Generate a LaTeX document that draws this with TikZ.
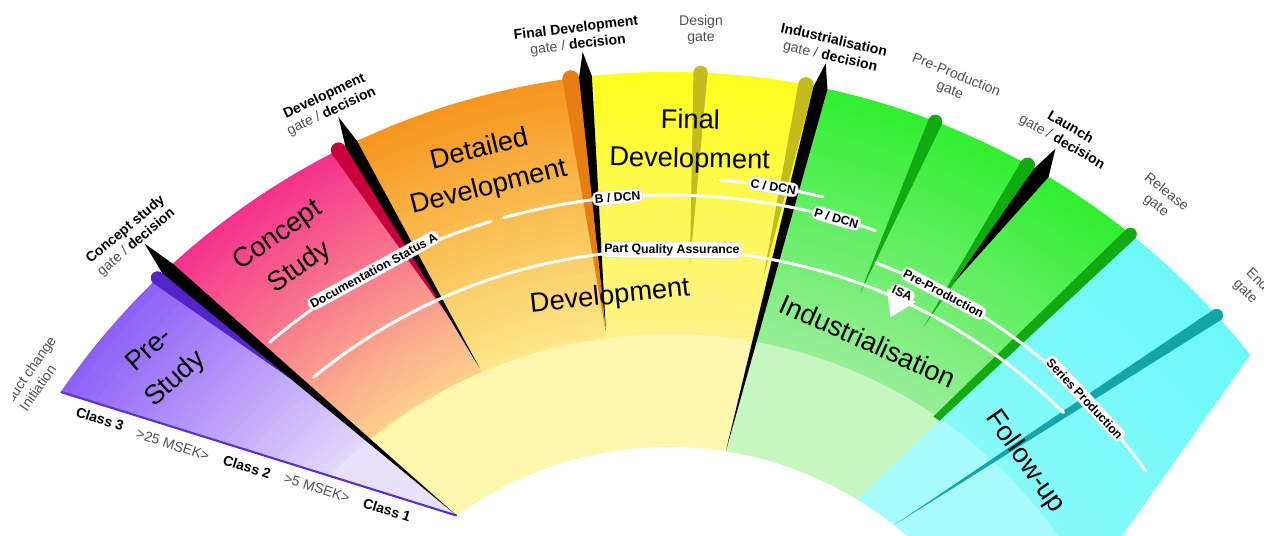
\documentclass[tikz,border=0pt]{standalone}
\usepackage{fontspec}
\setmainfont{Liberation Sans}
\usetikzlibrary{calc}

\definecolor{preA}{HTML}{8C5DF6}
\definecolor{preB}{HTML}{E2D8FB}
\definecolor{preC}{HTML}{E9E1FB}
\definecolor{conA}{HTML}{F52E8E}
\definecolor{conB}{HTML}{FCD08C}
\definecolor{detA}{HTML}{F7941E}
\definecolor{detB}{HTML}{FDE88A}
\definecolor{finA}{HTML}{FFFF1A}
\definecolor{finB}{HTML}{FFF28A}
\definecolor{devband}{HTML}{FFF7AE}
\definecolor{indA}{HTML}{2EEF2E}
\definecolor{indB}{HTML}{98EE98}
\definecolor{indC}{HTML}{C6F7C0}
\definecolor{folA}{HTML}{6CF8F8}
\definecolor{folB}{HTML}{88FAFA}
\definecolor{folC}{HTML}{A8FBFB}
\definecolor{prepost}{HTML}{5524C8}
\definecolor{conpost}{HTML}{C8003C}
\definecolor{detpost}{HTML}{E67E14}
\definecolor{olivepost}{HTML}{C4BC1C}
\definecolor{greenpost}{HTML}{12AA12}
\definecolor{tealpost}{HTML}{14A6A6}
\definecolor{edgeline}{HTML}{5A30D0}
\definecolor{txtgray}{HTML}{505050}

\begin{document}
\begin{tikzpicture}[
        x = 0.02cm, y = 0.02cm,
        line join=round,
        track/.style = {white, line width=1.7pt, line cap=round},
        tag/.style = {fill=white, draw=black!15, line width=0.3pt, rounded corners=3pt, inner sep=1.3pt, font=\bfseries\fontsize{7}{8}\selectfont},
        phase/.style = {align=center, font=\fontsize{15.5}{22}\selectfont},
        gatelbl/.style = {align=center, font=\fontsize{8}{9.5}\selectfont},
        cls/.style = {rotate=-18, font=\bfseries\fontsize{8}{9}\selectfont},
        amount/.style = {rotate=-18, text=txtgray, font=\fontsize{8}{9}\selectfont}
    ]

    \useasboundingbox (0,0) rectangle (1264,536);
    \clip (0,0) rectangle (1264,536);

    \coordinate (O) at (669,-274);

    % phases: outer colour fades to the band edge, light band inside
    \begin{scope}
        \clip ($(O)+(0:738)$) arc[start angle=0, end angle=360, radius=738]
            -- ($(O)+(0:363)$) arc[start angle=360, end angle=0, radius=363] -- cycle;
        \foreach \la/\lb/\ra/\rb/\cA/\cB/\cC in {
                145.5/125.8/132.8/125.8/preA/preB/preC,
                132.8/125.8/115.5/111.0/conA/conB/devband,
                115.5/111.0/96.5/98.5/detA/detB/devband,
                96.5/98.5/78.15/81.0/finA/finB/devband,
                78.15/81.0/51.1/58.8/indA/indB/indC,
                51.1/58.8/38.06/19.1/folA/folB/folC} {
            \begin{scope}
                \path ($(O)+(\la:738)$) coordinate (lo) ($(O)+(\lb:363)$) coordinate (li)
                      ($(O)+(\ra:738)$) coordinate (ro) ($(O)+(\rb:363)$) coordinate (ri);
                \clip ($(li)!1.4!(lo)$) -- ($(ri)!1.4!(ro)$) -- (ri) -- (li) -- cycle;
                \foreach \r in {476,484,...,740} {
                    \pgfmathtruncatemacro\mixpct{(\r-476)/2.64}
                    \draw[line width=5pt, draw=\cA!\mixpct!\cB] (O) circle[radius=\r];
                }
                \fill[fill=\cC] (O) circle[radius=476];
            \end{scope}
        }
    \end{scope}

    \draw[edgeline, line width=1.2pt] ($(O)+(145.5:738)$) -- ($(O)+(125.8:363)$);

    % gate posts with round tops
    \foreach \postcol/\topl/\topr/\botl/\botr/\botrad in {
            prepost/134.4/133.35/131.3/131.3/575,
            conpost/117.2/116.0/113.6/113.6/520,
            detpost/98.3/97.0/97.55/97.55/484,
            olivepost/88.1/87.0/87.8/87.8/545,
            olivepost/79.9/78.7/79.95/79.95/540,
            greenpost/69.4/68.3/69.7/69.7/551,
            greenpost/61.5/60.35/62.2/62.2/546,
            greenpost/51.8/50.8/56.1/55.2/474,
            tealpost/42.6/41.6/51.7/51.7/363} {
        \fill[fill=\postcol] ($(O)+(\topl:738)$) -- ($(O)+(\botl:\botrad)$)
            -- ($(O)+(\botr:\botrad)$) -- ($(O)+(\topr:738)$) -- cycle;
        \fill[fill=\postcol] ($(O)+({(\topl+\topr)/2}:738)$) circle[radius={(\topl-\topr)*6.44}];
    }

    % decision gates
    \foreach \rim/\half/\tip/\endang/\endrad in {
            132.8/0.55/772/125.8/363,
            115.5/0.5/768/113.2/481,
            96.5/0.5/763/97.5/484,
            78.15/0.55/763/81.0/363,
            59.7/0.65/766/61.6/600} {
        \fill ($(O)+(\rim:\tip)$) -- ($(O)+({\rim-\half}:738)$) -- ($(O)+(\endang:\endrad)$)
            -- ($(O)+({\rim+\half}:738)$) -- cycle;
    }

    % time lines
    \draw[track] ($(O)+(130.5:615)$) arc[start angle=130.5, end angle=106.8, radius=615];
    \draw[track] ($(O)+(105.6:615)$) arc[start angle=105.6, end angle=70.4, radius=615];
    \draw[track] ($(O)+(85.4:632)$) arc[start angle=85.4, end angle=75.9, radius=632];
    \draw[track] ($(O)+(129.4:560)$) arc[start angle=129.4, end angle=45.2, radius=560];
    \draw[track] ($(O)+(69.3:585)$) arc[start angle=69.3, end angle=35.4, radius=585];
    \fill[white] ($(O)+(67.3:565)$) -- ($(O)+(64.1:565)$) -- ($(O)+(65.8:540)$) -- cycle;

    \node[tag, rotate=28.7] (docA) at ($(O)+(118.7:615)$) {Documentation Status A};
    \node[tag, rotate=4.8] (bdcn) at ($(O)+(94.8:615)$) {B / DCN};
    \node[tag, rotate=-9.5] (cdcn) at ($(O)+(80.5:632)$) {C / DCN};
    \node[tag, rotate=-15.8] (pdcn) at ($(O)+(74.2:615)$) {P / DCN};
    \node[tag, rotate=-0.3] (pqa) at ($(O)+(89.7:560)$) {Part Quality Assurance};
    \node[tag, draw=none, rotate=-24.3] (isa) at ($(O)+(65.7:567)$) {ISA};
    \node[tag, rotate=-28] (preprod) at ($(O)+(62:585)$) {Pre-Production};
    \node[tag, rotate=-47] (series) at ($(O)+(44.7:585)$) {Series Production};

    % phase names
    \node[phase, rotate=42] (prestudy) at (163,171) {Pre-\\Study};
    \node[phase, rotate=35] (concept) at (289,284) {Concept\\Study};
    \node[phase, rotate=14] (detailed) at (484,367) {Detailed\\Development};
    \node[phase, rotate=-1] (finaldev) at (690,395) {Final\\Development};
    \node[phase, rotate=6] (development) at (610,239) {Development};
    \node[phase, rotate=-24] (industr) at (868,195) {Industrialisation};
    \node[phase, rotate=-55] (followup) at (1025,74) {Follow-up};

    % gate names
    \begin{scope}
        \clip (13,0) rectangle (200,536);
        \node[gatelbl, text=txtgray, rotate=55] (g-init) at (31,153) {Product change\\Initiation};
    \end{scope}
    \node[gatelbl, rotate=40] (g-concept) at (131,300) {\textbf{Concept study}\\\textcolor{txtgray}{gate /} \textbf{decision}};
    \node[gatelbl, rotate=25] (g-dev) at (328,432) {\textbf{Development}\\\textcolor{txtgray}{gate /} \textbf{decision}};
    \node[gatelbl, rotate=7] (g-final) at (577,499) {\textbf{Final Development}\\\textcolor{txtgray}{gate /} \textbf{decision}};
    \node[gatelbl, text=txtgray] (g-design) at (701,506) {Design\\gate};
    \node[gatelbl, rotate=-13] (g-ind) at (832,487) {\textbf{Industrialisation}\\\textcolor{txtgray}{gate /} \textbf{decision}};
    \node[gatelbl, text=txtgray, rotate=-22] (g-preprod) at (953,453) {Pre-Production\\gate};
    \node[gatelbl, rotate=-30] (g-launch) at (1066,401) {\textbf{Launch}\\\textcolor{txtgray}{gate /} \textbf{decision}};
    \node[gatelbl, text=txtgray, rotate=-38] (g-release) at (1161,337) {Release\\gate};
    \node[gatelbl, text=txtgray, rotate=-45] (g-end) at (1251,250) {End\\gate};

    % project classes along the rim
    \node[cls] (class3) at (100,117) {Class 3};
    \node[amount] (msek25) at (173,91) {>25 MSEK>};
    \node[cls] (class2) at (247,69) {Class 2};
    \node[amount] (msek5) at (317,48) {>5 MSEK>};
    \node[cls] (class1) at (387,26) {Class 1};
\end{tikzpicture}
\end{document}
